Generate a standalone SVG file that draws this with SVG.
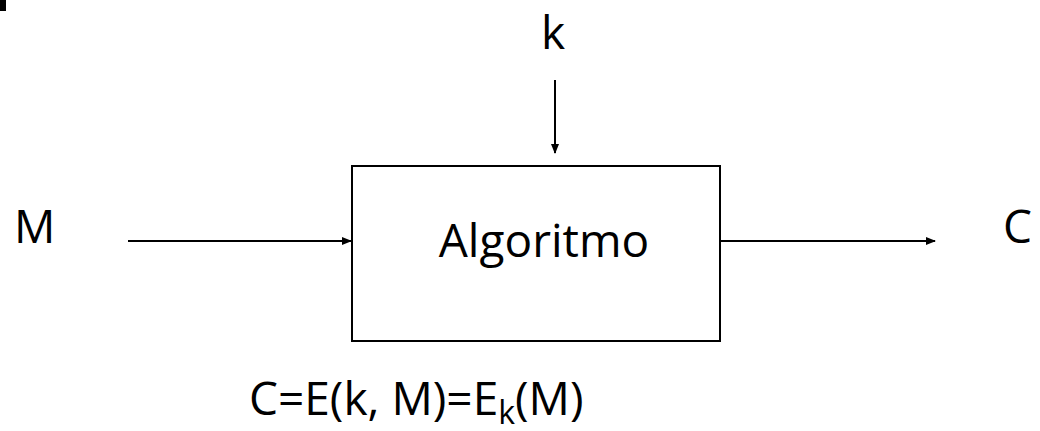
<svg xmlns="http://www.w3.org/2000/svg" width="1040" height="431" viewBox="0 0 1040 431">
<style>
text{font-family:"Open Sans","Liberation Sans",sans-serif;font-size:46px;fill:#000}
.ln{stroke:#000;stroke-width:2;fill:none}
</style>
<defs>
<marker id="ah" markerWidth="10" markerHeight="8" refX="9" refY="4" orient="auto" markerUnits="userSpaceOnUse">
<path d="M0,0 L10,4 L0,8 Z" fill="#000"/>
</marker>
</defs>
<rect x="0" y="0" width="6" height="11" fill="#000"/>
<g id="box">
<rect x="352" y="166" width="368" height="175" class="ln"/>
<text x="544" y="257" text-anchor="middle" font-size="50">Algoritmo</text>
</g>
<g id="M"><text x="14" y="243" font-size="48">M</text></g>
<g id="C"><text x="1003" y="243" font-size="48">C</text></g>
<g id="k"><text x="553" y="49" text-anchor="middle" font-size="48">k</text></g>
<g id="formula"><text x="249" y="415">C=E(k, M)=E<tspan font-size="32" dy="9">k</tspan><tspan dy="-9">(M)</tspan></text></g>
<g id="connectors">
<line x1="555" y1="80" x2="555" y2="153" class="ln" marker-end="url(#ah)"/>
<line x1="128" y1="241" x2="351" y2="241" class="ln" marker-end="url(#ah)"/>
<line x1="721" y1="241" x2="935" y2="241" class="ln" marker-end="url(#ah)"/>
</g>
</svg>
